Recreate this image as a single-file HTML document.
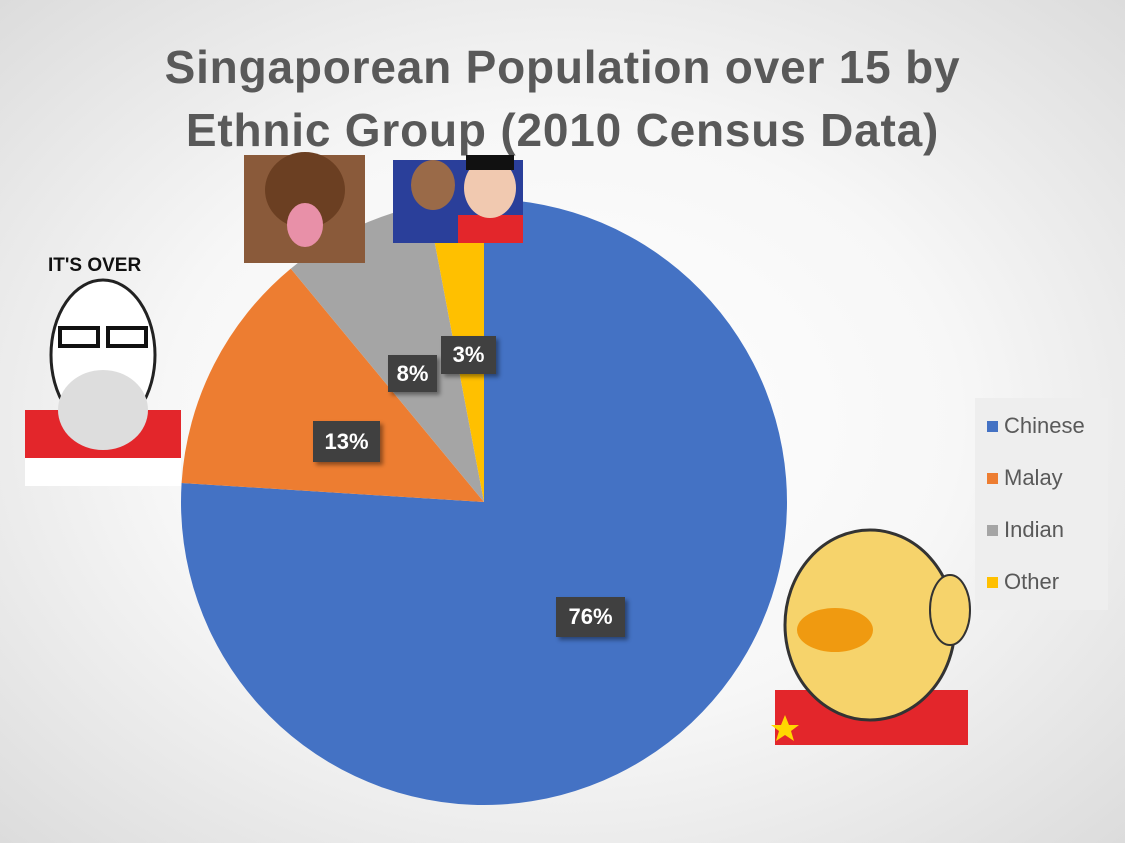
<!DOCTYPE html>
<html><head><meta charset="utf-8"><style>
html,body{margin:0;padding:0}
body{width:1125px;height:843px;overflow:hidden;font-family:"Liberation Sans",sans-serif;
background:radial-gradient(ellipse at 50% 50%,#ffffff 0%,#f7f7f7 50%,#dcdcdc 100%);position:relative}
.t{position:absolute;left:0;width:1125px;text-align:center;font-weight:bold;font-size:46px;color:#595959;letter-spacing:0.8px}
.lab{position:absolute;background:#404040;color:#fff;font-weight:bold;font-size:22px;text-align:center;box-shadow:3px 3px 4px rgba(0,0,0,.4)}
.leg{position:absolute;left:975px;top:398px;width:133px;height:212px;background:#eeeeee}
.li{position:absolute;left:12px;font-size:22px;color:#595959}
.li span{display:inline-block;width:11px;height:11px;margin-right:6px;vertical-align:1px}
</style></head><body>
<div class="t" style="top:40px">Singaporean Population over 15 by</div>
<div class="t" style="top:103px">Ethnic Group (2010 Census Data)</div>
<svg width="1125" height="843" style="position:absolute;left:0;top:0">
<g transform="translate(484,502)">
<path d="M0,0 L0,-303 A303,303 0 1 1 -302.4,-19.0 Z" fill="#4472c4"/>
<path d="M0,0 L-302.4,-19.0 A303,303 0 0 1 -193.2,-233.4 Z" fill="#ed7d31"/>
<path d="M0,0 L-193.2,-233.4 A303,303 0 0 1 -56.5,-297.7 Z" fill="#a5a5a5"/>
<path d="M0,0 L-56.5,-297.7 A303,303 0 0 1 0,-303 Z" fill="#ffc000"/>
</g>
<rect x="25" y="410" width="156" height="76" fill="#fff"/>
<rect x="25" y="410" width="156" height="48" fill="#e3262b"/>
<ellipse cx="103" cy="355" rx="52" ry="75" fill="#fff" stroke="#222" stroke-width="3"/>
<rect x="60" y="328" width="38" height="18" fill="none" stroke="#111" stroke-width="4"/>
<rect x="108" y="328" width="38" height="18" fill="none" stroke="#111" stroke-width="4"/>
<ellipse cx="103" cy="410" rx="45" ry="40" fill="#ddd"/>
<rect x="244" y="155" width="121" height="108" fill="#8a5a3a"/>
<ellipse cx="305" cy="190" rx="40" ry="38" fill="#6b3f22"/>
<ellipse cx="305" cy="225" rx="18" ry="22" fill="#e890a8"/>
<rect x="393" y="160" width="130" height="83" fill="#2a3f9a"/>
<rect x="458" y="215" width="65" height="28" fill="#e3262b"/>
<ellipse cx="433" cy="185" rx="22" ry="25" fill="#9a6a48"/>
<ellipse cx="490" cy="188" rx="26" ry="30" fill="#f1c9b0"/>
<rect x="466" y="155" width="48" height="15" fill="#111"/>
<rect x="775" y="690" width="193" height="55" fill="#e3262b"/>
<ellipse cx="870" cy="625" rx="85" ry="95" fill="#f6d36b" stroke="#333" stroke-width="3"/>
<ellipse cx="950" cy="610" rx="20" ry="35" fill="#f6d36b" stroke="#333" stroke-width="2"/>
<ellipse cx="835" cy="630" rx="38" ry="22" fill="#f09a10"/>
<polygon points="785,715 789,725 799,725 791,731 794,741 785,735 776,741 779,731 771,725 781,725" fill="#ffd700"/>
</svg>
<div style="position:absolute;left:48px;top:255px;font-weight:bold;font-size:19px;color:#111">IT'S OVER</div>
<div class="lab" style="left:388px;top:355px;width:49px;height:37px;line-height:37px">8%</div>
<div class="lab" style="left:441px;top:336px;width:55px;height:38px;line-height:38px">3%</div>
<div class="lab" style="left:313px;top:421px;width:67px;height:41px;line-height:41px">13%</div>
<div class="lab" style="left:556px;top:597px;width:69px;height:40px;line-height:40px">76%</div>
<div class="leg">
<div class="li" style="top:15px"><span style="background:#4472c4"></span>Chinese</div>
<div class="li" style="top:67px"><span style="background:#ed7d31"></span>Malay</div>
<div class="li" style="top:119px"><span style="background:#a5a5a5"></span>Indian</div>
<div class="li" style="top:171px"><span style="background:#ffc000"></span>Other</div>
</div>
</body></html>
